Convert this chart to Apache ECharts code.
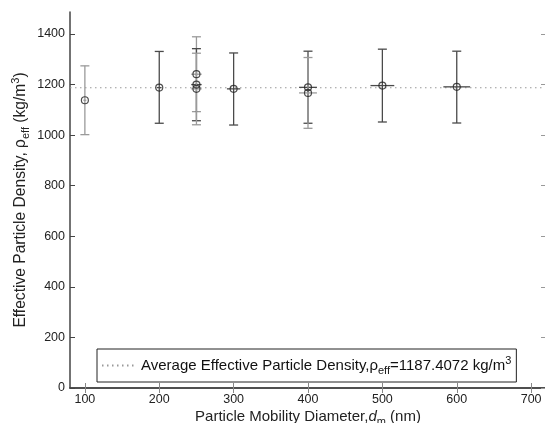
<!DOCTYPE html>
<html>
<head>
<meta charset="utf-8">
<script src="https://cdn.jsdelivr.net/npm/echarts@6/dist/echarts.min.js"></script>
<style>html,body{margin:0;padding:0;background:#fff;}#c{width:545px;height:423px;}</style>
</head>
<body>
<div id="c"></div>
<script>
// Data
const diameters   = [100, 200, 250, 250, 250, 300, 400, 400, 500, 600];
const densities   = [1138, 1188, 1241, 1200, 1183, 1183, 1189, 1167, 1196, 1191];
const densLow     = [1002, 1047, 1093, 1057, 1041, 1040, 1047, 1027, 1052, 1048];
const densHigh    = [1274, 1331, 1389, 1342, 1324, 1325, 1332, 1307, 1340, 1332];
const diamErr     = [2, 3, 7, 7, 7, 9, 12, 12, 16, 18];
const barShade    = ['light', 'dark', 'light', 'dark', 'light', 'dark', 'dark', 'light', 'dark', 'dark'];
const averageDensity = 1187.4072;
const xTicks = [100, 200, 300, 400, 500, 600, 700];
const yTicks = [0, 200, 400, 600, 800, 1000, 1200, 1400];

const FONT = 'Liberation Sans, Arial, sans-serif';
const errData = diameters.map((d, i) => [d, densities[i], densLow[i], densHigh[i], diamErr[i], barShade[i] === 'dark' ? 1 : 0]);

const chart = echarts.init(document.getElementById('c'), null, {renderer: 'canvas'});
chart.setOption({
  animation: false,
  backgroundColor: '#fff',
  textStyle: {fontFamily: FONT},
  grid: {left: 70, right: -1, top: 12, bottom: 35, containLabel: false, outerBoundsMode: 'none'},
  xAxis: [{
    type: 'value', min: 80, max: 720, position: 'bottom',
    name: 'Particle Mobility Diameter,{i|d}{sub|m} (nm)',
    nameLocation: 'middle', nameGap: 18, nameMoveOverlap: false,
    nameTextStyle: {fontFamily: FONT, fontSize: 15, color: '#222',
      rich: {i: {fontStyle: 'italic', fontSize: 15, fontFamily: FONT, color: '#222'},
             sub: {fontSize: 11, fontFamily: FONT, color: '#222', padding: [10, 0, 0, 0]}}},
    axisLine: {show: true, lineStyle: {color: '#444', width: 1.5}},
    axisTick: {show: true, inside: true, length: 5, customValues: xTicks, lineStyle: {color: '#888'}},
    axisLabel: {customValues: xTicks, fontSize: 12.5, color: '#222', margin: 5, fontFamily: FONT, formatter: v => String(v)},
    splitLine: {show: false}
  }, {
    type: 'value', min: 80, max: 720, position: 'top',
    axisLine: {show: true, lineStyle: {color: '#444', width: 1.5}},
    axisTick: {show: true, inside: true, length: 5, customValues: xTicks, lineStyle: {color: '#888'}},
    axisLabel: {show: false},
    splitLine: {show: false}
  }],
  yAxis: [{
    type: 'value', min: 0, max: 1487, position: 'left',
    name: 'Effective Particle Density, ρ{sub|eff} (kg/m{sup|3})',
    nameLocation: 'middle', nameGap: 39, nameRotate: 90, nameMoveOverlap: false,
    nameTextStyle: {fontFamily: FONT, fontSize: 15.6, color: '#222',
      rich: {sub: {fontSize: 11, fontFamily: FONT, color: '#222', padding: [10, 0, 0, 0]},
             sup: {fontSize: 11, fontFamily: FONT, color: '#222', padding: [0, 0, 10, 0]}}},
    axisLine: {show: true, lineStyle: {color: '#444', width: 1.5}},
    axisTick: {show: true, inside: true, length: 5, customValues: yTicks, lineStyle: {color: '#444'}},
    axisLabel: {customValues: yTicks, fontSize: 12.5, color: '#222', margin: 5, fontFamily: FONT, formatter: v => String(v)},
    splitLine: {show: false}
  }, {
    type: 'value', min: 0, max: 1487, position: 'right',
    axisLine: {show: true, lineStyle: {color: '#444', width: 1.5}},
    axisTick: {show: true, inside: true, length: 5, customValues: yTicks, lineStyle: {color: '#999'}},
    axisLabel: {show: false},
    splitLine: {show: false}
  }],
  legend: {
    show: true,
    data: ['avg'],
    left: 97, top: 349,
    padding: [6, 5, 6, 4],
    backgroundColor: '#fff',
    borderColor: '#222', borderWidth: 1,
    itemWidth: 34, itemHeight: 14, itemGap: 4,
    itemStyle: {opacity: 0},
    formatter: () => 'Average Effective Particle Density,ρ{sub|eff}=' + averageDensity.toFixed(4) + ' kg/m{sup|3}',
    textStyle: {fontFamily: FONT, fontSize: 15, color: '#111',
      rich: {sub: {fontSize: 11, fontFamily: FONT, color: '#111', padding: [10, 0, 0, 0]},
             sup: {fontSize: 11, fontFamily: FONT, color: '#111', padding: [0, 0, 10, 0]}}}
  },
  series: [
    {
      name: 'avg', type: 'line', xAxisIndex: 0, yAxisIndex: 0,
      data: [[80, averageDensity], [720, averageDensity]],
      symbol: 'none', z: 1,
      lineStyle: {color: '#999', width: 1, type: [1.5, 3.5]},
      itemStyle: {color: '#999'}
    },
    {
      name: 'err', type: 'custom', xAxisIndex: 0, yAxisIndex: 0, z: 2,
      data: errData,
      renderItem: function (params, api) {
        const x = api.value(0), y = api.value(1), lo = api.value(2), hi = api.value(3), xe = api.value(4);
        const dark = api.value(5) === 1;
        const col = dark ? '#4a4a4a' : '#9a9a9a';
        const pC = api.coord([x, y]);
        const pLo = api.coord([x, lo]);
        const pHi = api.coord([x, hi]);
        const pL = api.coord([x - xe, y]);
        const pR = api.coord([x + xe, y]);
        const cap = 4.5;
        const st = {stroke: col, lineWidth: 1.3};
        return {type: 'group', children: [
          {type: 'line', shape: {x1: pLo[0], y1: pLo[1], x2: pHi[0], y2: pHi[1]}, style: st},
          {type: 'line', shape: {x1: pLo[0] - cap, y1: pLo[1], x2: pLo[0] + cap, y2: pLo[1]}, style: st},
          {type: 'line', shape: {x1: pHi[0] - cap, y1: pHi[1], x2: pHi[0] + cap, y2: pHi[1]}, style: st},
          {type: 'line', shape: {x1: pL[0], y1: pC[1], x2: pR[0], y2: pC[1]}, style: st}
        ]};
      }
    },
    {
      name: 'pts', type: 'scatter', xAxisIndex: 0, yAxisIndex: 0, z: 3,
      data: diameters.map((d, i) => [d, densities[i]]),
      symbol: 'circle', symbolSize: 7,
      itemStyle: {color: 'rgba(255,255,255,0)', borderColor: '#222', borderWidth: 1.2}
    }
  ]
});
</script>
</body>
</html>
